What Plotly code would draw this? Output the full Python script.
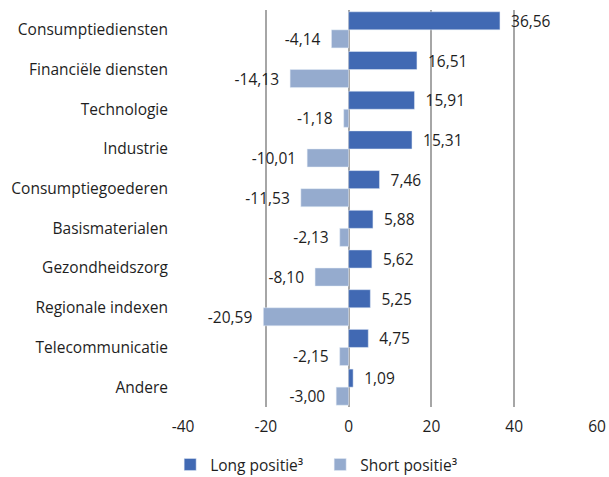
import plotly.graph_objects as go

categories = ["Consumptiediensten", "Financiële diensten", "Technologie", "Industrie",
              "Consumptiegoederen", "Basismaterialen", "Gezondheidszorg",
              "Regionale indexen", "Telecommunicatie", "Andere"]
long_vals = [36.56, 16.51, 15.91, 15.31, 7.46, 5.88, 5.62, 5.25, 4.75, 1.09]
short_vals = [-4.14, -14.13, -1.18, -10.01, -11.53, -2.13, -8.10, -20.59, -2.15, -3.00]
tick_vals = [-40, -20, 0, 20, 40, 60]
tick_text = ["-40", "-20", "0", "20", "40", "60"]

NB = "\u00a0"

def fmt(v):
    s = f"{v:.2f}".replace(".", ",")
    return (NB * 2 + s) if v >= 0 else (s + NB * 2)

font_family = "Open Sans, Noto Sans, sans-serif"
FS = 15.5

fig = go.Figure()
fig.add_trace(go.Bar(
    y=categories, x=long_vals, orientation="h", name="Long positie³",
    marker=dict(color="#4169B3"),
    text=[fmt(v) for v in long_vals], textposition="outside", constraintext="none",
    textfont=dict(size=FS, color="#1e1e1e"), cliponaxis=False,
))
fig.add_trace(go.Bar(
    y=categories, x=short_vals, orientation="h", name="Short positie³",
    marker=dict(color="#95ABCE"),
    text=[fmt(v) for v in short_vals], textposition="outside", constraintext="none",
    textfont=dict(size=FS, color="#1e1e1e"), cliponaxis=False,
))

fig.update_layout(
    width=609, height=477,
    barmode="group", bargap=0.09, bargroupgap=0,
    plot_bgcolor="white", paper_bgcolor="white",
    margin=dict(l=183, r=12, t=10, b=70, autoexpand=False),
    font=dict(family=font_family, size=FS, color="#1e1e1e"),
    showlegend=True,
    legend=dict(orientation="h", x=-0.031, xanchor="left", y=-0.103, yanchor="top",
                font=dict(size=FS), itemwidth=30, traceorder="normal",
                entrywidth=105, entrywidthmode="pixels"),
    xaxis=dict(range=[-40, 60], tickvals=tick_vals, ticktext=tick_text,
               showgrid=True, gridcolor="#A6A6A6", gridwidth=1.5,
               zeroline=True, zerolinecolor="#A6A6A6", zerolinewidth=1.5,
               showline=False, ticks="", tickfont=dict(size=FS), automargin=False,
               ticklabelstandoff=8),
    yaxis=dict(autorange="reversed", showgrid=False, ticks="", showline=False,
               tickfont=dict(size=FS), automargin=False, ticklabelstandoff=14),
)

fig.write_html("out.html", config={"displayModeBar": False},
               post_script="document.body.style.margin='0';document.body.style.overflow='hidden';")
